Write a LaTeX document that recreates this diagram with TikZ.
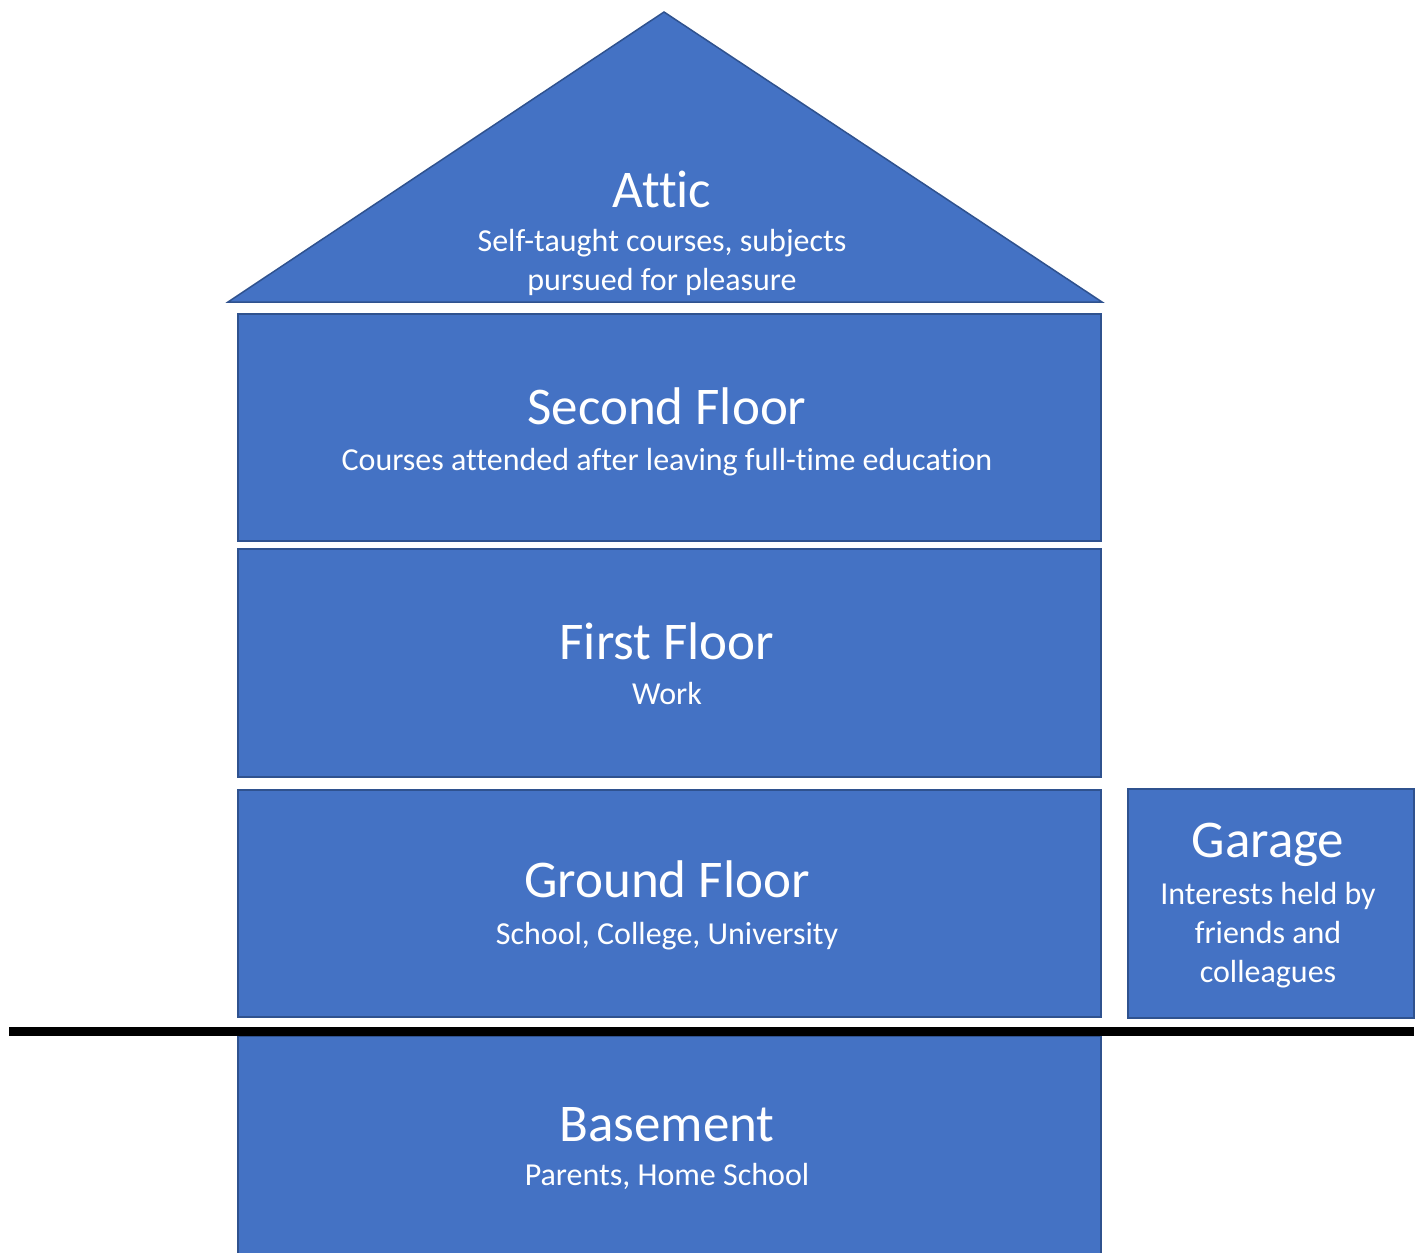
\documentclass[tikz,border=0pt]{standalone}
\usepackage{fontspec}
\setmainfont{Carlito}[Ligatures=NoCommon]
\definecolor{roomfill}{HTML}{4472C4}
\definecolor{roomedge}{HTML}{2F528F}
\tikzset{
    room/.style={draw=roomedge, fill=roomfill, line width=1.5pt},
    roomtitle/.style={text=white, inner sep=0pt, anchor=base, font=\fontsize{53}{60}\selectfont},
    roomnote/.style={text=white, inner sep=0pt, anchor=base, align=center, font=\fontsize{32}{39}\selectfont},
}
\begin{document}
\begin{tikzpicture}[x=1pt, y=-1pt]
    \clip (0,0) rectangle (1420,1252);
    \fill[white] (0,0) rectangle (1420,1252);

    % roof
    \coordinate (eaveL) at (228,302);
    \coordinate (ridge) at (664,12);
    \coordinate (eaveR) at (1102,302);
    \draw[room] (eaveL) -- (ridge) -- (eaveR) -- cycle;
    \node[roomtitle] (attic-title) at (662,207) {Attic};
    % base of a multi-line note is its last line
    \node[roomnote] (attic-note) at (662,290) {Self-taught courses, subjects\\pursued for pleasure};

    % floors
    \foreach \name/\ytop/\ybot/\tbase/\nbase/\title/\note in {
        second/314/541/424/470/Second Floor/{Courses attended after leaving full-time education},
        first/549/777/659/704/First Floor/Work,
        ground/790/1017/897/944/Ground Floor/{School, College, University},
        basement/1036/1270/1141/1185/Basement/{Parents, Home School}}
    {
        \draw[room] (238,\ytop) rectangle (1101,\ybot);
        \node[roomtitle] (\name-title) at (667,\tbase) {\title};
        \node[roomnote] (\name-note) at (667,\nbase) {\note};
    }

    % garage
    \draw[room] (1128,789) rectangle (1414,1018);
    \node[roomtitle] (garage-title) at (1268,857) {Garage};
    \node[roomnote] (garage-note) at (1268,982) {Interests held by\\friends and\\colleagues};

    % ground line
    \coordinate (groundL) at (9,1031);
    \coordinate (groundR) at (1414,1031);
    \draw[line width=9pt] (groundL) -- (groundR);
\end{tikzpicture}
\end{document}
